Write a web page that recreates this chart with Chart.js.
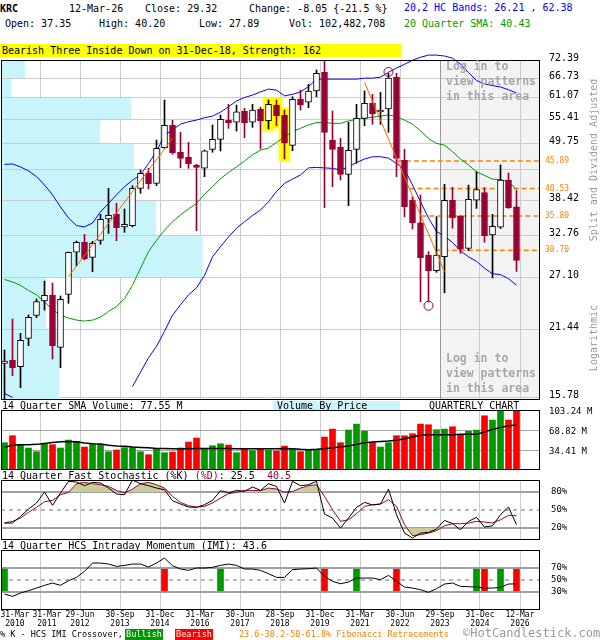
<!DOCTYPE html>
<html>
<head>
<meta charset="utf-8">
<title>KRC Quarterly Chart</title>
<script src="https://cdn.jsdelivr.net/npm/chart.js@4.4.1/dist/chart.umd.min.js"></script>
<style>
  html, body { margin:0; padding:0; background:#fff; }
  #wrap { position:relative; width:600px; height:640px; overflow:hidden; background:#fff; font-family:'DejaVu Sans Mono', monospace; }
  .t { position:absolute; white-space:pre; font-size:10px; line-height:12px; color:#000; z-index:3; }
  canvas { position:absolute; left:0; z-index:1; }
</style>
</head>
<body>
<div id="wrap">
  <div class="t" style="left:0;top:3px;font-weight:bold">KRC</div>
  <div class="t" style="left:69px;top:3px">12-Mar-26</div>
  <div class="t" style="left:145px;top:3px">Close: 29.32</div>
  <div class="t" style="left:249px;top:3px">Change: -8.05 {-21.5 %}</div>
  <div class="t" style="left:404px;top:2px;color:#0000ff">20,2 HC Bands: 26.21 , 62.38</div>
  <div class="t" style="left:5px;top:18px">Open: 37.35</div>
  <div class="t" style="left:99px;top:18px">High: 40.20</div>
  <div class="t" style="left:199px;top:18px">Low: 27.89</div>
  <div class="t" style="left:289px;top:18px">Vol: 102,482,708</div>
  <div class="t" style="left:404px;top:18px;color:#009900">20 Quarter SMA: 40.43</div>
  <div class="t" style="left:0;top:44px;width:399px;height:13px;line-height:13px;background:#ffff00;padding-left:2px">Bearish Three Inside Down on 31-Dec-18, Strength: 162</div>

  <div class="t" style="left:446px;top:59px;font-size:11.5px;line-height:15px;font-weight:bold;color:#a8a8a8;z-index:2">Log in to
view patterns
in this area</div>
  <div class="t" style="left:446px;top:351px;font-size:11.5px;line-height:15px;font-weight:bold;color:#a8a8a8;z-index:2">Log in to
view patterns
in this area</div>
  <div class="t" style="left:509px;top:154px;width:170px;text-align:center;color:#999;transform:rotate(-90deg);transform-origin:85px 6px">Split and Dividend Adjusted</div>
  <div class="t" style="left:559px;top:332px;width:70px;text-align:center;color:#999;transform:rotate(-90deg);transform-origin:35px 6px">Logarithmic</div>

  <div class="t" style="left:2px;top:400px">14 Quarter SMA Volume: 77.55 M</div>
  <div class="t" style="left:273px;top:401px;width:123px;height:9px;line-height:10px;background:#c8f4fc;padding-left:4px">Volume By Price</div>
  <div class="t" style="left:429px;top:400px">QUARTERLY CHART</div>
  <div class="t" style="left:2px;top:470px">14 Quarter Fast Stochastic (%K) <span style="color:#990033">(%D)</span>: 25.5  <span style="color:#990033">40.5</span></div>
  <div class="t" style="left:2px;top:540px">14 Quarter HCS Intraday Momentum (IMI): 43.6</div>

  <div class="t" style="left:0;top:629px;font-size:8.5px;line-height:11px">% K - HCS IMI Crossover,</div>
  <div class="t" style="left:125px;top:629px;width:38px;height:11px;font-size:8.5px;line-height:11px;background:#009900;color:#fff;text-align:center">Bullish</div>
  <div class="t" style="left:175px;top:629px;width:38px;height:11px;font-size:8.5px;line-height:11px;background:#ff0000;color:#fff;text-align:center">Bearish</div>
  <div class="t" style="left:239px;top:629px;font-size:8.5px;line-height:11px;color:#ff8000">23.6-38.2-50-61.8% Fibonacci Retracements</div>
  <div class="t" style="left:463px;top:626px;font-size:12px;line-height:14px;color:#999">©HotCandlestick.com</div>

  <canvas id="cMain" width="600" height="355" style="top:50px;width:600px;height:355px"></canvas>
  <canvas id="cVol" width="600" height="68" style="top:405px;width:600px;height:68px"></canvas>
  <canvas id="cSto" width="600" height="67" style="top:475px;width:600px;height:67px"></canvas>
  <canvas id="cImi" width="600" height="89" style="top:545px;width:600px;height:89px"></canvas>
</div>

<script>
// ---------------- DATA ----------------
const quarters = (() => { const o = []; for (let y = 2010; y <= 2026; y++) for (let q = 1; q <= 4; q++) if (o.length < 65) o.push(y + ' Q' + q); return o; })();

const opens  = [18.43,18.71,18.16,20.63,22.88,24.41,25.08,19.81,25.16,30.41, 31.81,29.73,32.10,35.33,36.09,34.08,34.28,40.58,43.49,41.51, 48.74,53.92,47.74,46.68,45.06,44.42,48.39,50.62,55.23,54.66, 57.51,54.66,58.04,55.05,59.09,56.49,49.27,60.70,59.82,62.94, 68.48,50.46,48.83,43.23,48.39,55.65,59.55,57.30,58.04,67.05, 46.05,38.42,34.75,30.04,27.99,29.81,38.45,35.76,30.96,38.45, 39.79,32.87,34.04,42.13,37.35];
const highs  = [19.57,22.51,21.10,22.92,24.64,26.71,26.47,24.97,30.45,32.00, 32.98,31.95,36.09,40.58,37.93,36.97,41.06,44.08,44.42,50.46, 60.44,55.15,52.24,49.94,45.22,48.24,54.00,56.49,59.28,59.09, 58.22,59.28,58.56,60.44,60.44,57.77,61.35,63.23,64.88,69.20, 72.00,57.51,50.85,54.66,59.28,62.94,62.02,62.58,68.18,68.18, 48.39,39.08,39.38,30.49,35.70,41.32,40.77,35.90,41.18,43.74, 40.69,36.09,45.08,43.48,40.20];
const lows   = [15.62,17.43,16.51,19.95,22.65,23.43,18.79,18.07,24.16,28.62, 29.38,27.86,31.53,33.13,32.04,33.28,34.12,39.68,40.46,41.06, 48.60,47.31,44.53,44.42,33.52,42.77,47.74,48.02,53.20,52.55, 50.99,53.44,48.46,53.03,53.82,46.32,48.07,57.77,58.38,61.35, 37.19,40.88,42.13,37.52,45.42,53.82,54.16,54.16,52.24,42.77, 35.70,33.78,24.34,24.30,27.78,25.34,33.90,30.27,30.63,37.08, 31.81,27.10,33.85,37.08,27.89];
const closes = [18.62,18.07,20.45,22.67,24.34,25.05,19.95,24.61,30.41,31.81, 29.51,31.67,35.29,35.93,33.97,34.50,40.58,43.43,41.44,48.60, 53.92,47.66,46.46,45.35,44.61,48.07,50.62,55.40,54.56,57.33, 54.56,57.77,54.98,59.28,56.31,49.75,60.63,59.09,62.94,68.18, 52.24,48.39,43.23,48.17,55.65,59.55,56.74,57.75,66.73,46.46, 37.35,34.75,29.68,27.99,30.04,38.45,35.54,30.86,38.62,40.33, 32.76,34.19,42.13,37.19,29.32];

const upperBand = [45.2,45.3,44.7,43.9,42.8,41.2,39.4,37.3,35.5,34.3, 34.1,34.7,36.5,37.9,39.4,40.9,42.1,43.1,45.4,47.9, 51.6,52.8,54.2,54.8,55.2,55.8,56.2,57.2,58.6,60.2, 61.1,61.8,62.7,63.5,63.2,61.6,62.0,62.7,64.2,66.4, 66.4,66.4,66.4,66.4,66.4,66.7,66.7,67.0,68.5,69.8, 71.0,72.3,73.3,74.0,74.0,73.7,73.0,71.0,68.4,66.0, 65.0,64.5,64.1,63.3,62.38];
const lowerBand = [16.1,15.8,null,null,null,null,null,null,null,null, null,null,null,null,null,null,16.6,17.7,18.9,19.9, 21.3,22.9,24.0,25.1,25.9,27.4,29.8,31.2,32.6,33.9, 34.9,35.9,36.8,38.2,40.0,41.5,42.3,43.1,44.5,44.6, 44.5,44.4,44.1,44.7,45.6,46.3,46.8,46.8,46.5,45.4, 44.2,41.2,38.2,35.5,33.4,32.7,31.8,30.6,29.8,29.2, 28.3,27.6,27.5,27.0,26.21];
const sma20 = [26.9,26.6,26.2,25.6,25.1,24.3,23.5,22.9,22.6,22.4, 22.3,22.4,22.7,23.3,23.8,24.7,26.2,28.3,30.5,32.1, 33.6,34.9,36.0,37.0,37.9,39.5,40.9,42.4,43.6,44.7, 45.9,47.2,48.2,48.7,49.9,51.2,52.4,53.2,54.0,54.6, 54.6,54.4,54.4,55.0,55.4,55.7,55.9,56.2,56.5,56.1, 55.2,54.2,52.6,50.8,49.7,49.3,47.9,46.3,45.1,43.7, 43.0,42.3,42.2,41.8,40.43];

const priceTicks = [72.39,66.73,61.07,55.41,49.75,44.09,38.42,32.76,27.10,21.44,15.78];
const hiddenPriceLabels = [44.09];
const vbpVolume = [79,35,429,327,439,448,512,666,149,193];   // volume at price, M shares, per price band (top to bottom)

const fibLevels = [45.89,40.53,35.80,30.70];
const fibStart  = [49.17,50.64,52.10,53.91];
const swingLine1 = [{x:8, y:27.24},{x:21, y:50.85}];
const swingLine2 = [{x:45, y:65.46},{x:55, y:27.86}];
const patternMarks = [{x:48, y:68.6},{x:53, y:23.9}];
const highlightIdx = [33,34,35];
const lockedFromIdx = 54.4375;

const volume = [47.0,59.0,44.1,37.8,31.5,45.8,43.5,37.8,51.5,49.2, 39.5,44.1,44.1,31.5,34.4,38.4,38.4,31.5,26.3,36.1, 29.8,30.9,37.8,48.1,55.0,37.2,41.8,45.2,42.9,29.8, 37.2,33.2,36.6,34.4,32.6,41.2,36.1,31.5,35.5,35.5, 56.7,70.4,47.0,68.7,79.0,67.0,47.0,39.5,47.0,59.0, 59.0,62.4,79.0,77.9,69.3,70.4,74.4,60.7,67.0,68.7, 93.3,85.9,101.9,85.9,102.48];
const volSma14 = [38.9,42.4,43.5,43.5,44.1,45.8,47.5,48.7,49.2,48.7, 46.4,45.2,44.7,42.4,41.2,40.7,39.5,38.9,38.4,37.2, 37.2,36.6,36.6,36.6,37.2,37.2,37.2,37.2,37.2,36.6, 36.6,36.6,36.6,36.6,36.6,37.2,36.6,35.5,34.9,35.5, 36.6,38.4,39.5,41.2,44.1,47.0,48.1,49.2,49.8,51.0, 53.8,56.7,59.6,60.7,60.7,60.7,60.7,61.3,61.3,61.3, 65.3,69.9,73.3,76.2,77.55];
const volTicks = [34.41,68.82,103.24];

const stochK = [28.3,28.3,39.3,51.6,61.6,80.0,57.7,78.3,97.7,96.6, 90.5,96.0,95.0,86.6,76.6,75.5,100,93.8,90.5,86.6, 83.8,65.5,60.0,54.9,54.4,58.8,66.1,82.2,78.3,82.7, 81.0,88.3,82.7,93.8,89.4,61.6,97.7,90.5,92.2,97.7, 43.2,36.6,19.9,36.6,54.4,62.7,58.3,60.0,84.9,42.2, 11.6,3.3,11.6,12.7,18.3,32.7,27.2,17.2,31.1,37.7, 21.6,23.8,42.2,54.9,25.5];
const stochD = [28.3,31.1,36.6,46.1,54.4,63.8,66.1,75.5,79.4,93.8, 96.0,93.8,92.2,89.4,82.7,78.3,85.0,93.8,96.0,92.2, 86.6,72.7,62.7,57.2,54.9,56.1,61.6,70.0,77.2,79.4, 82.7,82.7,82.2,86.6,85.0,79.4,80.5,86.6,90.5,92.2, 72.7,50.5,31.1,33.8,43.8,56.1,58.8,60.0,67.2,56.1, 25.5,7.2,8.8,11.6,15.5,23.8,27.2,27.2,28.3,31.1, 30.0,28.3,33.8,41.1,40.5];
const stochTicks = [20,50,80];

const imi = [26.6,22.7,28.3,32.2,36.6,41.1,44.9,41.1,48.8,54.4, 64.4,78.3,78.3,76.6,72.7,74.4,76.6,76.6,71.6,78.3, 86.6,73.8,68.3,66.1,70.0,70.0,71.1,74.4,76.6,74.4, 68.3,68.3,66.1,60.5,54.4,54.4,67.2,68.3,68.8,70.0, 56.1,47.7,43.8,46.6,53.3,53.3,53.3,50.5,57.7,47.7, 38.3,36.6,33.8,29.4,35.5,43.3,44.9,39.4,38.8,38.3, 36.6,36.6,37.7,43.3,43.6];
const imiTicks = [30,50,70];
const bullishIdx = [0,27,44,59,62];
const bearishIdx = [20,40,49,60,64];
const signalSpan = [32,68];

const xTickIdx = [0,4,9,14,19,24,29,34,39,44,49,54,59,64];
const xTickLabels = [['31-Mar','2010'],['31-Mar','2011'],['29-Jun','2012'],['30-Sep','2013'],['31-Dec','2014'],['31-Mar','2016'],['30-Jun','2017'],['28-Sep','2018'],['31-Dec','2019'],['31-Mar','2021'],['30-Jun','2022'],['29-Sep','2023'],['31-Dec','2024'],['12-Mar','2026']];

// ---------------- STYLE / HELPERS ----------------
const FONT = "'DejaVu Sans Mono', monospace";
Chart.defaults.font.family = FONT;
const GREEN = '#009900', RED = '#ff0000', CRIM = '#990033', BLUE = '#0000ff', ORANGE = '#ff8000', GRID = '#cccccc';
const X_MIN = -0.4375, X_MAX = X_MIN + 539 / 8;
const idx = closes.map((_, i) => i);
const up = idx.map(i => closes[i] >= opens[i]);
const gridPos = xTickIdx.slice(1).map(i => i + 0.4375);
// labelled axis: [value, labelIndex or -1, drawGrid]
const labelTicks = [[1.3, 0, false], [gridPos[0], -1, true], [5.3, 1, false]]
  .concat(gridPos.slice(1).map((v, k) => [v, k + 2, true]));
const pts = a => a.map((v, i) => ({x: i, y: v}));

function xAxis(withLabels) {
  return {
    type: 'linear', position: 'bottom', min: X_MIN, max: X_MAX, offset: false,
    afterBuildTicks: ax => { ax.ticks = withLabels ? labelTicks.map(t => ({value: t[0]})) : gridPos.map(v => ({value: v})); },
    afterFit: ax => { ax.height = withLabels ? 24 : 0; ax.paddingLeft = 0; ax.paddingRight = 0; },
    grid: { color: ctx => (withLabels && ctx.index !== undefined && labelTicks[ctx.index] && !labelTicks[ctx.index][2]) ? 'rgba(0,0,0,0)' : GRID,
            drawTicks: false, offset: false, lineWidth: 1 },
    border: { display: false },
    ticks: { display: withLabels, autoSkip: false, maxRotation: 0, minRotation: 0, padding: 1,
             font: {family: FONT, size: 8, lineHeight: 1.1}, color: '#000',
             callback: (v, i) => { const t = labelTicks[i]; return (t && t[1] >= 0) ? xTickLabels[t[1]] : ''; } }
  };
}
function rightAxis(o) {
  return Object.assign({
    position: 'right',
    afterBuildTicks: ax => { ax.ticks = o.tickVals.map(v => ({value: v})); },
    afterFit: ax => { ax.width = 60; ax.paddingTop = 0; ax.paddingBottom = 0; },
    border: { display: false },
  }, o.cfg);
}
const framePlugin = { id: 'frame', afterDraw(c) {
  const a = c.chartArea, ctx = c.ctx;
  ctx.save(); ctx.strokeStyle = '#000'; ctx.lineWidth = 1;
  ctx.strokeRect(a.left + 0.5, a.top + 0.5, a.right - a.left - 1, a.bottom - a.top - 1);
  ctx.restore();
}};
function refLinesPlugin(levels) {
  return { id: 'refLines', beforeDatasetsDraw(c) {
    const {ctx, chartArea: a, scales: {y}} = c;
    ctx.save();
    levels.forEach(([v, dashed]) => {
      const py = Math.round(y.getPixelForValue(v));
      ctx.beginPath();
      ctx.strokeStyle = '#a0a0a0';
      ctx.lineWidth = dashed ? 1.5 : 2;
      ctx.setLineDash(dashed ? [4, 4] : []);
      ctx.moveTo(a.left, py); ctx.lineTo(a.right, py); ctx.stroke();
    });
    ctx.restore();
  }};
}
const baseOpts = {
  responsive: false, animation: false, devicePixelRatio: 1, events: [],
  plugins: { legend: { display: false }, tooltip: { enabled: false } }
};
function layout(p) { return { autoPadding: false, padding: p }; }

// ---------------- MAIN PRICE CHART ----------------
const mainDecor = {
  id: 'mainDecor',
  beforeDraw(c) {
    const {ctx, chartArea: a, scales: {x}} = c;
    const gx = Math.round(x.getPixelForValue(lockedFromIdx));
    ctx.save(); ctx.fillStyle = '#f3f3f3'; ctx.fillRect(gx, a.top, a.right - gx, a.bottom - a.top); ctx.restore();
  },
  beforeDatasetsDraw(c) {
    const {ctx, chartArea: a, scales: {x, y, xv}} = c;
    ctx.save();
    ctx.fillStyle = '#c8f4fc';
    for (let k = 0; k < vbpVolume.length; k++) {
      const r0 = Math.round(y.getPixelForValue(priceTicks[k]) - 0.5) + 1;
      const r1 = k + 1 < priceTicks.length - 1 ? Math.round(y.getPixelForValue(priceTicks[k + 1]) - 0.5) : a.bottom;
      const xr = xv.getPixelForValue(vbpVolume[k]);
      ctx.fillRect(a.left, r0, xr - a.left, r1 - r0);
    }
    const gx = Math.round(x.getPixelForValue(lockedFromIdx)) + 0.5;
    ctx.strokeStyle = '#999'; ctx.lineWidth = 1;
    ctx.beginPath(); ctx.moveTo(gx, a.top); ctx.lineTo(gx, a.bottom); ctx.stroke();
    ctx.restore();
  },
  afterDraw(c) {
    const {ctx, chartArea: a, scales: {y}} = c;
    ctx.save();
    ctx.fillStyle = ORANGE; ctx.font = '8px ' + FONT; ctx.textBaseline = 'middle'; ctx.textAlign = 'left';
    fibLevels.forEach(v => ctx.fillText(v.toFixed(2), a.right + 5, y.getPixelForValue(v)));
    ctx.restore();
  }
};

const mainDatasets = [
  { type: 'bar', data: highlightIdx.map(i => ({x: i, y: [lows[i] * 0.99, highs[i] * 1.01]})),
    backgroundColor: '#ffff00', barThickness: 11, grouped: false, order: 9 },
  ...fibLevels.map((lv, k) => ({ type: 'line', data: [{x: fibStart[k], y: lv}, {x: X_MAX, y: lv}],
    borderColor: ORANGE, borderWidth: 1.5, borderDash: [5, 3], pointRadius: 0, order: 8 })),
  { type: 'line', data: pts(upperBand), borderColor: BLUE, borderWidth: 1, pointRadius: 0, tension: 0,
    clip: {left: 0, top: 8, right: 0, bottom: 0}, order: 7 },
  { type: 'line', data: pts(lowerBand), borderColor: BLUE, borderWidth: 1, pointRadius: 0, tension: 0, order: 7 },
  { type: 'line', data: pts(sma20), borderColor: GREEN, borderWidth: 1, pointRadius: 0, tension: 0, order: 7 },
  { type: 'bar', data: idx.map(i => ({x: i, y: [lows[i], highs[i]]})),
    backgroundColor: idx.map(i => up[i] ? '#000' : CRIM), borderWidth: 0, barThickness: 1, grouped: false, order: 2 },
  { type: 'bar', data: idx.map(i => ({x: i, y: [opens[i], closes[i]]})),
    backgroundColor: idx.map(i => up[i] ? '#fff' : CRIM), borderColor: idx.map(i => up[i] ? '#000' : CRIM),
    borderWidth: 1, borderSkipped: false, barThickness: 6, grouped: false, order: 1 },
  { type: 'line', data: swingLine1, borderColor: '#ff6600', borderWidth: 1, pointRadius: 0, order: 0 },
  { type: 'line', data: swingLine2, borderColor: '#ff6600', borderWidth: 1, pointRadius: 0, order: 0 },
  { type: 'line', data: patternMarks, showLine: false, pointRadius: 4.5, pointStyle: 'circle',
    pointBorderColor: CRIM, pointBackgroundColor: 'rgba(0,0,0,0)', pointBorderWidth: 1, order: -1 }
];

new Chart(document.getElementById('cMain'), {
  type: 'bar',
  data: { labels: quarters, datasets: mainDatasets.map(d => Object.assign({xAxisID: 'x', yAxisID: 'y'}, d)) },
  options: Object.assign({}, baseOpts, {
    layout: layout({ left: 1, top: 10, right: 0, bottom: 5 }),
    scales: {
      x: xAxis(false),
      y: rightAxis({ tickVals: priceTicks, cfg: {
        type: 'logarithmic', min: 15.62, max: 72.39,
        grid: { color: GRID, drawTicks: false, lineWidth: 1 },
        ticks: { padding: 9, labelOffset: -2, autoSkip: false, color: '#000', font: {family: FONT, size: 10},
                 callback: v => hiddenPriceLabels.includes(v) ? '' : Number(v).toFixed(2) }
      }}),
      xv: { type: 'linear', axis: 'x', display: false, offset: false, min: 0, max: 1780, position: 'top' }
    }
  }),
  plugins: [mainDecor, framePlugin]
});

// ---------------- VOLUME ----------------
new Chart(document.getElementById('cVol'), {
  type: 'bar',
  data: { labels: quarters, datasets: [
    { type: 'line', xAxisID: 'x', yAxisID: 'y', data: pts(volSma14), borderColor: '#000', borderWidth: 1.5, pointRadius: 0, order: 0 },
    { type: 'bar', xAxisID: 'x', yAxisID: 'y', data: pts(volume),
      backgroundColor: idx.map(i => (i === 0 || closes[i] >= closes[i - 1]) ? GREEN : RED),
      barThickness: 6, grouped: false, order: 1 }
  ]},
  options: Object.assign({}, baseOpts, {
    layout: layout({ left: 1, top: 5, right: 0, bottom: 3 }),
    scales: {
      x: xAxis(false),
      y: rightAxis({ tickVals: volTicks, cfg: {
        type: 'linear', min: 0, max: 103.24,
        grid: { color: '#a8a8a8', drawTicks: false, lineWidth: 1 },
        ticks: { padding: 9, labelOffset: 2, autoSkip: false, color: '#000', font: {family: FONT, size: 9},
                 callback: v => Number(v).toFixed(2) + ' M' }
      }})
    }
  }),
  plugins: [framePlugin]
});

// ---------------- STOCHASTIC ----------------
new Chart(document.getElementById('cSto'), {
  type: 'line',
  data: { labels: quarters, datasets: [
    { data: pts(stochD), borderColor: 'rgba(0,0,0,0)', borderWidth: 0, pointRadius: 0,
      fill: { target: {value: 80}, above: 'rgb(204,204,153)', below: 'rgba(0,0,0,0)' }, order: 5 },
    { data: pts(stochD), borderColor: 'rgba(0,0,0,0)', borderWidth: 0, pointRadius: 0,
      fill: { target: {value: 20}, above: 'rgba(0,0,0,0)', below: 'rgb(204,204,153)' }, order: 5 },
    { data: pts(stochD), borderColor: CRIM, borderWidth: 1, pointRadius: 0, fill: false, order: 2 },
    { data: pts(stochK), borderColor: '#000', borderWidth: 1, pointRadius: 0, fill: false, order: 1 }
  ]},
  options: Object.assign({}, baseOpts, {
    layout: layout({ left: 1, top: 5, right: 0, bottom: 2 }),
    scales: {
      x: xAxis(false),
      y: rightAxis({ tickVals: stochTicks, cfg: {
        type: 'linear', min: 0, max: 100,
        grid: { display: false, drawTicks: false },
        ticks: { padding: 11, autoSkip: false, color: '#000', font: {family: FONT, size: 9}, callback: v => v + '%' }
      }})
    }
  }),
  plugins: [refLinesPlugin([[80, false], [50, true], [20, false]]), framePlugin]
});

// ---------------- IMI ----------------
new Chart(document.getElementById('cImi'), {
  type: 'bar',
  data: { labels: quarters, datasets: [
    { type: 'line', xAxisID: 'x', yAxisID: 'y', data: pts(imi), borderColor: '#000', borderWidth: 1, pointRadius: 0, order: 0 },
    { type: 'bar', xAxisID: 'x', yAxisID: 'y', data: bullishIdx.map(i => ({x: i, y: signalSpan})),
      backgroundColor: GREEN, barThickness: 6, grouped: false, order: 1 },
    { type: 'bar', xAxisID: 'x', yAxisID: 'y', data: bearishIdx.map(i => ({x: i, y: signalSpan})),
      backgroundColor: RED, barThickness: 6, grouped: false, order: 1 }
  ]},
  options: Object.assign({}, baseOpts, {
    layout: layout({ left: 1, top: 5, right: 0, bottom: 0 }),
    scales: {
      x: xAxis(true),
      y: rightAxis({ tickVals: imiTicks, cfg: {
        type: 'linear', min: 0, max: 100,
        grid: { display: false, drawTicks: false },
        ticks: { padding: 11, autoSkip: false, color: '#000', font: {family: FONT, size: 9}, callback: v => v + '%' }
      }})
    }
  }),
  plugins: [refLinesPlugin([[70, false], [50, true], [30, false]]), framePlugin]
});
</script>
</body>
</html>
